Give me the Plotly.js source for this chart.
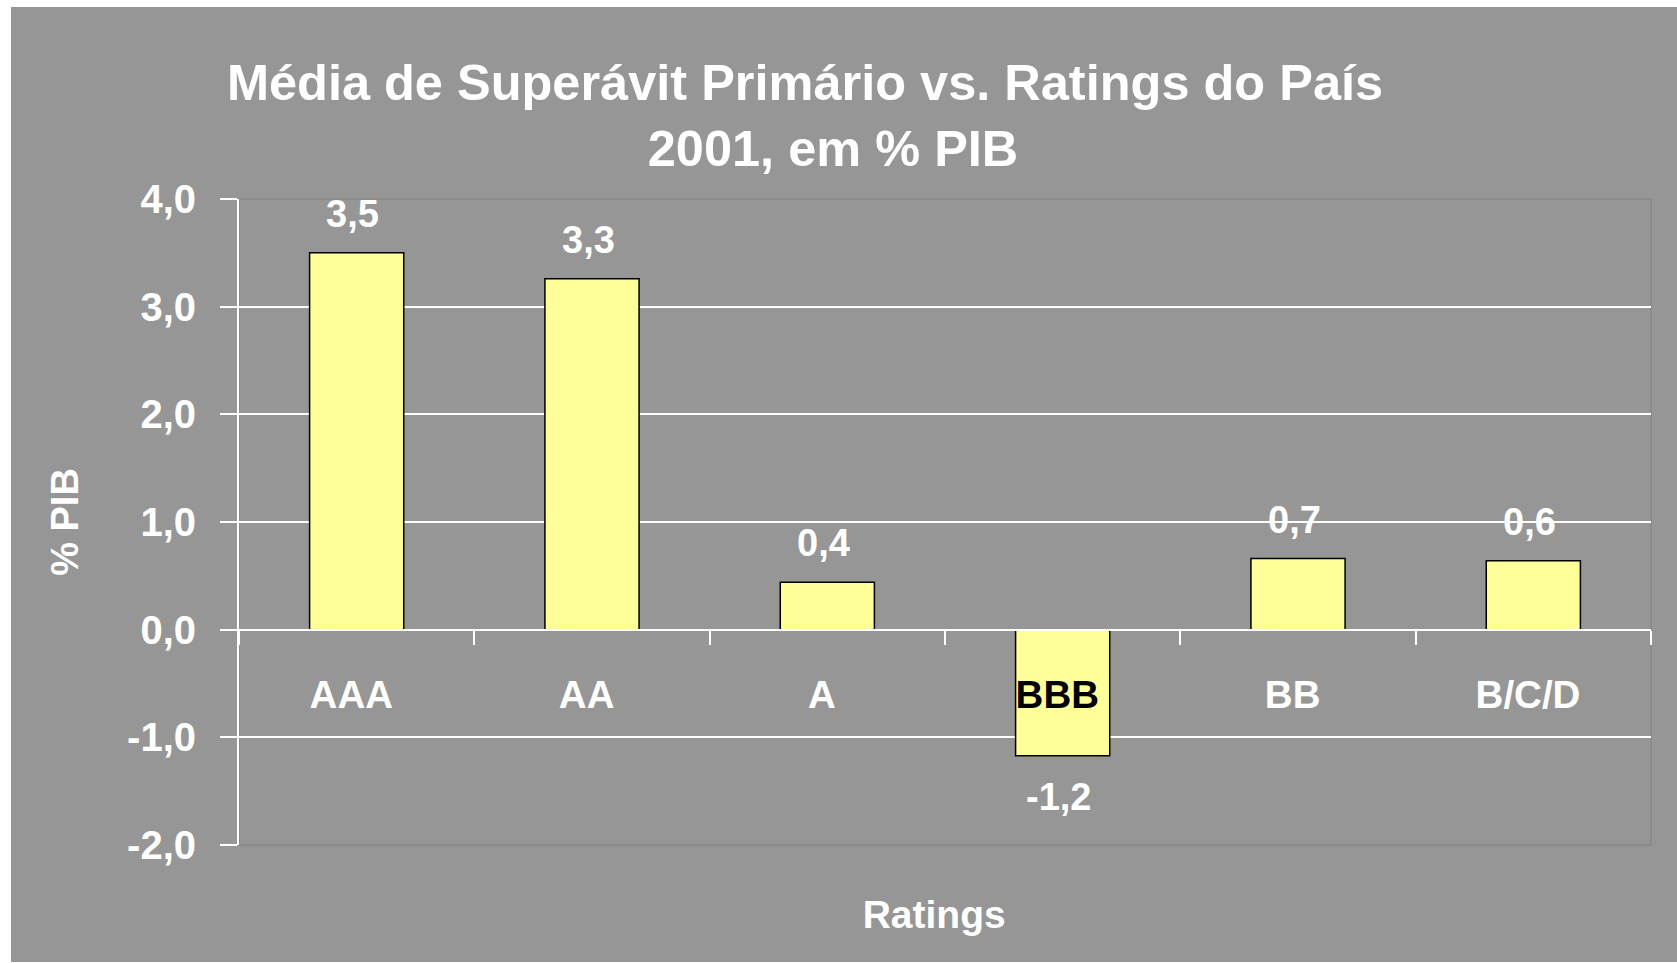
<!DOCTYPE html>
<html>
<head>
<meta charset="utf-8">
<script src="https://cdn.plot.ly/plotly-3.0.1.min.js"></script>
<style>
  html, body { margin: 0; padding: 0; background: #ffffff; width: 1677px; height: 963px; overflow: hidden; }
  #chart { position: absolute; left: 11px; top: 7px; width: 1666px; height: 955px; }
</style>
</head>
<body>
<div id="chart"></div>
<script>
// ---- data ----
const categories = ["AAA", "AA", "A", "BBB", "BB", "B/C/D"];
const values = [3.5, 3.26, 0.44, -1.17, 0.66, 0.64];
const valueLabels = ["3,5", "3,3", "0,4", "-1,2", "0,7", "0,6"];
const yTickVals = [-2, -1, 0, 1, 2, 3, 4];
const yTickText = ["-2,0", "-1,0", "0,0", "1,0", "2,0", "3,0", "4,0"];
const titleLine1 = "Média de Superávit Primário vs. Ratings do País";
const titleLine2 = "2001, em % PIB";
const yTitle = "% PIB";
const xTitle = "Ratings";

// ---- styling ----
const FONT = "Liberation Sans, Arial, Helvetica, sans-serif";
const BG = "#969696";
const NB = "\u00A0";
const ZW = "\u200B";
const yRange = [-2, 4];
const zeroPos = (0 - yRange[0]) / (yRange[1] - yRange[0]);

const tickText = categories.map(c =>
  (c === "BBB" ? '<span style="color:#000000">' + c + '</span>' : c) + NB + ZW);

const trace = {
  type: "bar",
  x: categories,
  y: values,
  marker: { color: "#FFFF99", line: { color: "#000000", width: 1.5 } },
  hoverinfo: "x+y",
  showlegend: false
};

const annotations = categories.map((c, i) => ({
  x: c,
  y: values[i],
  xref: "x",
  yref: "y",
  text: valueLabels[i],
  showarrow: false,
  xanchor: "center",
  yanchor: "middle",
  xshift: -4,
  yshift: values[i] >= 0 ? 39 : -41,
  font: { family: FONT, size: 38, color: "#ffffff", weight: "bold" }
}));

const layout = {
  width: 1666,
  height: 955,
  paper_bgcolor: BG,
  plot_bgcolor: BG,
  margin: { l: 228, r: 26, t: 192, b: 117, pad: 0 },
  showlegend: false,
  bargap: 0.6,
  title: {
    text: titleLine1 + "<br>" + NB + NB + NB + NB + titleLine2,
    font: { family: FONT, size: 50.5, color: "#ffffff", weight: "bold" },
    xref: "container",
    x: 794 / 1666,
    xanchor: "center",
    yref: "container",
    y: 1 - 93 / 955,
    yanchor: "top"
  },
  xaxis: {
    type: "category",
    anchor: "free",
    position: zeroPos,
    tickmode: "array",
    tickvals: categories,
    ticktext: tickText,
    tickson: "boundaries",
    ticks: "outside",
    ticklen: 14,
    tickwidth: 2,
    tickcolor: "#ffffff",
    showline: true,
    linecolor: "#ffffff",
    linewidth: 2,
    showgrid: false,
    zeroline: false,
    ticklabelstandoff: 31,
    tickfont: { family: FONT, size: 38.5, color: "#ffffff", weight: "bold" },
    title: {
      text: xTitle + NB + NB + ZW,
      standoff: 185,
      font: { family: FONT, size: 39, color: "#ffffff", weight: "bold" }
    },
    fixedrange: true
  },
  yaxis: {
    range: yRange,
    tickmode: "array",
    tickvals: yTickVals,
    ticktext: yTickText,
    ticks: "outside",
    ticklen: 17,
    tickwidth: 2,
    tickcolor: "#ffffff",
    showline: true,
    linecolor: "#ffffff",
    linewidth: 2,
    showgrid: true,
    gridcolor: "#ffffff",
    gridwidth: 2,
    zeroline: false,
    ticklabelstandoff: 16,
    tickfont: { family: FONT, size: 40, color: "#ffffff", weight: "bold" },
    title: {
      text: yTitle,
      standoff: 37,
      font: { family: FONT, size: 38, color: "#ffffff", weight: "bold" }
    },
    fixedrange: true
  },
  shapes: [{
    type: "rect", xref: "paper", yref: "paper",
    x0: 0, x1: 1, y0: 0, y1: 1,
    line: { color: "#808080", width: 1 },
    layer: "below"
  }],
  annotations: annotations
};

Plotly.newPlot("chart", [trace], layout, { displayModeBar: false, staticPlot: true });
</script>
</body>
</html>
